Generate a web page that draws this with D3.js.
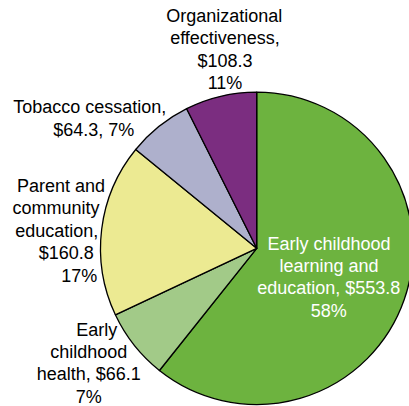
<!DOCTYPE html>
<html>
<head>
<meta charset="utf-8">
<script src="https://cdn.jsdelivr.net/npm/d3@7/dist/d3.min.js"></script>
<style>
  html, body { margin: 0; padding: 0; background: #fff; overflow: hidden; }
  svg { display: block; }
  text { font-family: "Liberation Sans", Arial, sans-serif; }
</style>
</head>
<body>
<svg id="chart" width="409" height="406"></svg>
<script>
// ---- data ----
const categories = [
  "Early childhood learning and education",
  "Early childhood health",
  "Parent and community education",
  "Tobacco cessation",
  "Organizational effectiveness"
];
const amounts = ["$553.8", "$66.1", "$160.8", "$64.3", "$108.3"];
const percentLabels = ["58%", "7%", "17%", "7%", "11%"];
// slice shares as drawn in the picture (percent of the circle)
const sliceShares = [60.7, 7.3, 17.9, 6.7, 7.4];
const colors = ["#6db33f", "#a2ca88", "#ecea92", "#aeb0cc", "#7b2d80"];

// label text lines, built from the arrays above
const labelLines = [
  ["Early childhood", "learning and", "education, " + amounts[0], percentLabels[0]],
  ["Early", "childhood", "health, " + amounts[1], percentLabels[1]],
  ["Parent and", "community", "education,", amounts[2], percentLabels[2]],
  ["Tobacco cessation,", amounts[3] + ", " + percentLabels[3]],
  ["Organizational", "effectiveness,", amounts[4], percentLabels[4]]
];

// ---- layout ----
const cx = 256.7, cy = 248.3, r = 156.2;
const fontSize = 18;
const labelLayout = [
  { fill: "#fff", lines: [[329, 250], [329, 272], [328.7, 294.3], [328.7, 316.5]] },
  { fill: "#000", lines: [[96.7, 335.5], [88.8, 358], [88.7, 380.3], [88.8, 402.5]] },
  { fill: "#000", lines: [[61, 191.7], [56, 214.3], [56.7, 236.8], [66.3, 259.3], [79.2, 282]] },
  { fill: "#000", lines: [[89.7, 113.3], [93.8, 136]] },
  { fill: "#000", lines: [[224.2, 21.7], [225, 44.3], [225, 66.8], [225, 89.3]] }
];

const svg = d3.select("#chart");
const g = svg.append("g").attr("transform", `translate(${cx},${cy})`);

const pie = d3.pie().sort(null).value(d => d).startAngle(0).endAngle(2 * Math.PI);
const arc = d3.arc().innerRadius(0).outerRadius(r);

g.selectAll("path.slice")
  .data(pie(sliceShares))
  .join("path")
  .attr("class", "slice")
  .attr("d", arc)
  .attr("fill", (d, i) => colors[i])
  .attr("stroke", "#000")
  .attr("stroke-width", 1.3)
  .attr("stroke-linejoin", "round");

// labels
labelLines.forEach((lines, i) => {
  const lay = labelLayout[i];
  const t = svg.append("g").attr("class", "label");
  lines.forEach((line, j) => {
    t.append("text")
      .attr("x", lay.lines[j][0])
      .attr("y", lay.lines[j][1])
      .attr("text-anchor", "middle")
      .attr("font-size", fontSize)
      .attr("fill", lay.fill)
      .text(line);
  });
});
</script>
</body>
</html>
